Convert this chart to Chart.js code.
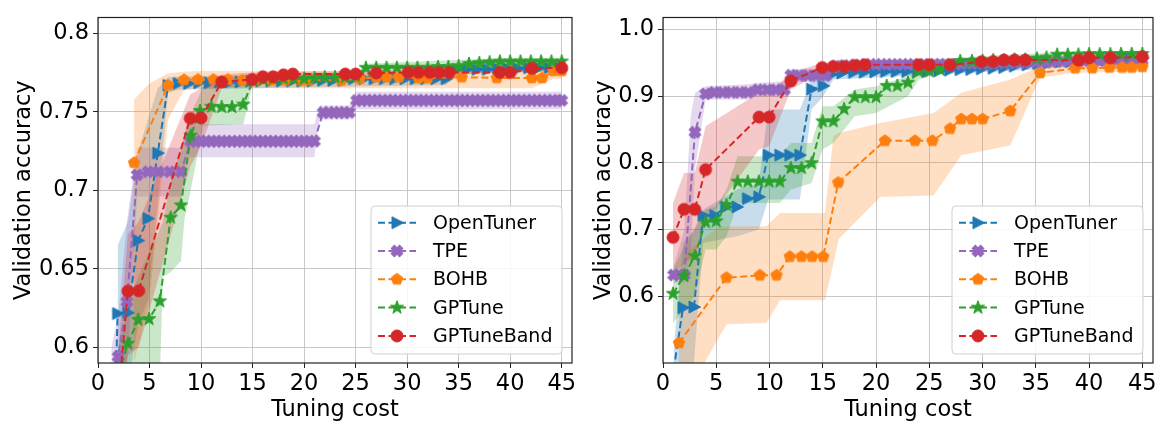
<!DOCTYPE html>
<html>
<head>
<meta charset="utf-8">
<script src="https://cdn.jsdelivr.net/npm/chart.js@4.4.1/dist/chart.umd.min.js"></script>
<style>
  body { margin: 0; background: #fff; }
  #wrap { position: relative; width: 1163px; height: 425px; }
  #wrap canvas { position: absolute; top: 0; }
</style>
</head>
<body>
<div id="wrap">
  <canvas id="left" width="580" height="425" style="left:0"></canvas>
  <canvas id="right" width="583" height="425" style="left:580px"></canvas>
</div>
<script>
// ---- ticks and names ----
var xTicks = [0, 5, 10, 15, 20, 25, 30, 35, 40, 45];
var xTickLabels = ["0", "5", "10", "15", "20", "25", "30", "35", "40", "45"];
var leftYTicks = [0.6, 0.65, 0.7, 0.75, 0.8];
var leftYTickLabels = ["0.6", "0.65", "0.7", "0.75", "0.8"];
var rightYTicks = [0.6, 0.7, 0.8, 0.9, 1.0];
var rightYTickLabels = ["0.6", "0.7", "0.8", "0.9", "1.0"];
var seriesNames = ["OpenTuner", "TPE", "BOHB", "GPTune", "GPTuneBand"];

// ---- left panel: mean curves ----
var L_otX = [1, 1.9, 2.9, 3.9, 4.85, 5.8, 6.8, 7.8, 8.8, 9.8, 10.8, 11.8, 12.8, 13.8, 14.8, 15.8, 16.8, 17.8, 18.8, 19.8, 20.8, 21.8, 22.8, 23.8, 24.8, 25.8, 26.8, 27.8, 28.8, 29.8, 30.8, 31.8, 32.8, 33.8, 34.8, 35.8, 36.8, 37.8, 38.8, 39.8, 40.8, 41.8, 42.8, 43.8, 44.8];
var L_otY = [0.40, 0.6215, 0.622, 0.668, 0.682, 0.7236, 0.7668, 0.768, 0.768, 0.7685, 0.7685, 0.769, 0.769, 0.769, 0.7695, 0.7695, 0.7695, 0.7695, 0.7695, 0.7695, 0.7695, 0.770, 0.770, 0.770, 0.771, 0.771, 0.771, 0.771, 0.771, 0.771, 0.771, 0.771, 0.771, 0.771, 0.777, 0.777, 0.777, 0.777, 0.7775, 0.7775, 0.7775, 0.778, 0.778, 0.778, 0.778];

var L_tpeX = [1, 1.95, 2.8, 3.8, 4.85, 5.85, 6.95, 8.05, 9, 9.5, 10, 10.5, 11, 11.5, 12, 12.5, 13, 13.5, 14, 14.5, 15, 15.5, 16, 16.5, 17, 17.5, 18, 18.5, 19, 19.5, 20, 20.5, 21, 21.85, 22.4, 22.9, 23.4, 23.9, 24.4, 25.1, 25.6, 26.1, 26.6, 27.1, 27.6, 28.1, 28.6, 29.1, 29.6, 30.1, 30.6, 31.1, 31.6, 32.1, 32.6, 33.1, 33.6, 34.1, 34.6, 35.1, 35.6, 36.1, 36.6, 37.1, 37.6, 38.1, 38.6, 39.1, 39.6, 40.1, 40.6, 41.1, 41.6, 42.1, 42.6, 43.1, 43.6, 44.1, 44.6, 45];
var L_tpeY = [0.45, 0.594, 0.629, 0.7098, 0.7118, 0.7118, 0.7118, 0.7118,
  0.7312, 0.7312, 0.7312, 0.7312, 0.7312, 0.7312, 0.7312, 0.7312, 0.7312, 0.7312, 0.7312, 0.7312, 0.7312, 0.7312, 0.7312, 0.7312, 0.7312, 0.7312, 0.7312, 0.7312, 0.7312, 0.7312, 0.7312, 0.7312, 0.7312,
  0.7495, 0.7495, 0.7495, 0.7495, 0.7495, 0.7495,
  0.7572, 0.7572, 0.7572, 0.7572, 0.7572, 0.7572, 0.7572, 0.7572, 0.7572, 0.7572, 0.7572, 0.7572, 0.7572, 0.7572, 0.7572, 0.7572, 0.7572, 0.7572, 0.7572, 0.7572, 0.7572, 0.7572, 0.7572, 0.7572, 0.7572, 0.7572, 0.7572, 0.7572, 0.7572, 0.7572, 0.7572, 0.7572, 0.7572, 0.7572, 0.7572, 0.7572, 0.7572, 0.7572, 0.7572, 0.7572, 0.7572];

var L_bohbX = [3.5, 6.8, 8.35, 9.7, 11.2, 12.6, 14, 15.4, 16.8, 18.2, 19.6, 20.4, 23.6, 25.4, 27, 28, 29.2, 31.1, 32, 35.3, 38.7, 42.1, 43.1, 44.2, 45];
var L_bohbY = [0.7175, 0.7668, 0.7703, 0.7705, 0.7705, 0.7705, 0.770, 0.770, 0.770, 0.770, 0.770, 0.770, 0.770, 0.771, 0.772, 0.772, 0.772, 0.7715, 0.7715, 0.772, 0.7715, 0.7715, 0.7715, 0.776, 0.776];

var L_gpX = [2, 2.9, 3.9, 4.95, 6, 7.05, 8.05, 9, 9.9, 11, 12, 13, 14.1, 15.05, 16, 17, 18, 19, 20, 21, 22, 23, 24, 25, 26, 27, 28, 29, 30, 31, 32, 33, 34, 35, 36, 37, 38, 39, 40, 41, 42, 43, 44, 45];
var L_gpY = [0.583, 0.6024, 0.6175, 0.618, 0.6293, 0.6826, 0.6904, 0.7348, 0.7505, 0.7532, 0.753, 0.753, 0.7546, 0.770, 0.7705, 0.771, 0.771, 0.771, 0.771, 0.7715, 0.772, 0.772, 0.772, 0.7725, 0.778, 0.778, 0.778, 0.778, 0.778, 0.778, 0.778, 0.7785, 0.7785, 0.779, 0.7805, 0.781, 0.7815, 0.782, 0.782, 0.782, 0.782, 0.782, 0.782, 0.782];

var L_gpbX = [2, 2.9, 3.95, 8.95, 10, 12, 14.95, 16, 17, 18, 18.9, 24, 25, 27, 30.1, 31.1, 32.2, 33.1, 34.1, 39, 40, 42.1, 45];
var L_gpbY = [0.57, 0.6358, 0.636, 0.7458, 0.746, 0.769, 0.7705, 0.7723, 0.7723, 0.7735, 0.774, 0.774, 0.774, 0.7746, 0.775, 0.775, 0.775, 0.775, 0.775, 0.775, 0.775, 0.7776, 0.778];

// ---- left panel: spread bands ----
var L_otBandX = [1.9, 2.9, 3.9, 4.85, 5.8, 6.8, 7.8, 15, 25, 33.8, 34.8, 45];
var L_otHi = [0.665, 0.68, 0.725, 0.745, 0.765, 0.772, 0.7725, 0.773, 0.7735, 0.774, 0.779, 0.780];
var L_otLo = [0.55, 0.575, 0.615, 0.63, 0.69, 0.762, 0.764, 0.765, 0.766, 0.767, 0.774, 0.776];

var L_tpeBandX = [1.3, 1.95, 2.8, 3.8, 8.05, 8.6, 21, 21.5, 24.4, 25, 45];
var L_tpeHi = [0.60, 0.62, 0.68, 0.727, 0.727, 0.742, 0.742, 0.754, 0.754, 0.7627, 0.7627];
var L_tpeLo = [0.57, 0.575, 0.585, 0.696, 0.696, 0.721, 0.721, 0.745, 0.745, 0.7515, 0.7515];

var L_bohbBandX = [3.5, 5, 6.8, 8.35, 10, 20, 30, 42.1, 44.2, 45];
var L_bohbHi = [0.758, 0.768, 0.7745, 0.7755, 0.776, 0.776, 0.776, 0.776, 0.779, 0.779];
var L_bohbLo = [0.59, 0.63, 0.745, 0.764, 0.765, 0.765, 0.765, 0.765, 0.771, 0.771];

var L_gpBandX = [2, 2.9, 3.9, 4.95, 6, 6.3, 7.05, 8.05, 8.4, 9, 10.2, 14.1, 15.05, 25, 26, 37, 45];
var L_gpHi = [0.60, 0.625, 0.645, 0.66, 0.675, 0.68, 0.705, 0.725, 0.735, 0.748, 0.766, 0.767, 0.7725, 0.7745, 0.7805, 0.7835, 0.7835];
var L_gpLo = [0.575, 0.585, 0.59, 0.59, 0.58, 0.645, 0.648, 0.655, 0.682, 0.70, 0.741, 0.742, 0.7685, 0.7705, 0.7755, 0.7785, 0.7805];

var L_gpbBandX = [2, 2.9, 3.95, 8.95, 10, 12, 14.95, 25, 45];
var L_gpbHi = [0.60, 0.672, 0.68, 0.761, 0.765, 0.7735, 0.775, 0.776, 0.780];
var L_gpbLo = [0.565, 0.595, 0.60, 0.715, 0.728, 0.765, 0.767, 0.772, 0.776];

// ---- right panel: mean curves ----
var R_otX = [1, 1.88, 2.91, 3.76, 4.86, 5.89, 6.95, 7.93, 9.0, 9.87, 10.97, 11.9, 12.85, 13.95, 15.04, 15.8, 16.8, 17.9, 18.9, 19.9, 20.9, 21.9, 22.9, 23.9, 24.8, 25.9, 26.9, 27.9, 28.9, 29.9, 31, 32, 33, 34.2, 35.2, 36.2, 37.3, 38.3, 39.3, 40.4, 41.5, 42.6, 43.8, 45];
var R_otY = [0.49, 0.583, 0.584, 0.7213, 0.7213, 0.734, 0.734, 0.7464, 0.749, 0.8116, 0.8116, 0.8116, 0.8116, 0.9107, 0.9155, 0.9325, 0.9348, 0.9358, 0.936, 0.9365, 0.937, 0.937, 0.937, 0.937, 0.937, 0.938, 0.939, 0.9397, 0.940, 0.941, 0.942, 0.943, 0.945, 0.947, 0.949, 0.950, 0.9517, 0.952, 0.953, 0.954, 0.955, 0.956, 0.956, 0.957];

var R_tpeX = [1, 1.5, 2, 3, 4, 4.8, 5.6, 6.4, 7.2, 8, 8.9, 9.8, 10.6, 11.4, 12, 12.8, 13.6, 14.4, 15.3, 16.2, 17, 18, 19, 20, 21, 22, 23, 24, 25, 26, 27, 28, 29, 30, 31, 32, 33, 34, 35, 36, 37, 38, 39, 40, 41, 42, 43, 44, 45];
var R_tpeY = [0.632, 0.632, 0.632, 0.846, 0.9035, 0.9058, 0.9058, 0.9058, 0.9058, 0.9058, 0.9097, 0.9097, 0.9097, 0.9097, 0.9315, 0.931, 0.931, 0.931, 0.931, 0.945, 0.946, 0.947, 0.948, 0.948, 0.948, 0.948, 0.948, 0.948, 0.948, 0.948, 0.948, 0.948, 0.949, 0.949, 0.949, 0.95, 0.95, 0.95, 0.951, 0.951, 0.952, 0.952, 0.952, 0.953, 0.953, 0.953, 0.954, 0.954, 0.954];

var R_bohbX = [1.5, 5.96, 9.09, 10.66, 11.9, 13, 14, 15.04, 16.45, 20.84, 23.66, 25.3, 26.95, 28, 29, 30, 32.6, 35.4, 38.7, 40.3, 41.9, 43.1, 44, 45];
var R_bohbY = [0.53, 0.628, 0.6315, 0.6315, 0.6594, 0.6594, 0.6594, 0.6594, 0.7706, 0.8333, 0.8333, 0.8333, 0.8513, 0.8658, 0.8658, 0.8658, 0.8778, 0.9348, 0.942, 0.942, 0.943, 0.943, 0.943, 0.944];

var R_gpX = [0.94, 1.97, 2.98, 4.0, 5.0, 5.96, 7.0, 7.96, 9, 9.96, 10.97, 12, 13, 13.95, 14.98, 16, 17, 18, 19, 20, 21, 22, 23, 24, 25, 26, 27.9, 29, 30, 31, 32, 33, 34, 35.1, 36, 37, 38, 39, 40, 41, 42, 43, 44, 45];
var R_gpY = [0.6039, 0.6304, 0.6604, 0.7112, 0.7126, 0.7368, 0.772, 0.772, 0.772, 0.772, 0.772, 0.7923, 0.7923, 0.7996, 0.8623, 0.8623, 0.8807, 0.8986, 0.8986, 0.8986, 0.9155, 0.9155, 0.9203, 0.9372, 0.9372, 0.940, 0.9527, 0.9527, 0.953, 0.954, 0.954, 0.955, 0.955, 0.9565, 0.958, 0.9623, 0.9623, 0.9625, 0.963, 0.963, 0.963, 0.9633, 0.9633, 0.9633];

var R_gpbX = [0.94, 1.97, 2.98, 4.0, 9.02, 9.96, 12, 14.94, 15.98, 17, 18, 18.96, 24, 25, 26.95, 29.9, 31, 32, 33, 34, 39, 40, 42, 45];
var R_gpbY = [0.6884, 0.7304, 0.7304, 0.7899, 0.8687, 0.8687, 0.9228, 0.943, 0.9445, 0.9445, 0.946, 0.947, 0.947, 0.947, 0.947, 0.9517, 0.952, 0.9542, 0.9542, 0.9542, 0.954, 0.9575, 0.9575, 0.959];

// ---- right panel: spread bands ----
var R_otBandX = [1, 1.88, 2.91, 3.76, 6.95, 9.0, 9.87, 12.85, 13.95, 15.04, 16, 25, 35, 45];
var R_otHi = [0.52, 0.68, 0.70, 0.73, 0.76, 0.77, 0.88, 0.88, 0.925, 0.93, 0.94, 0.942, 0.952, 0.962];
var R_otLo = [0.45, 0.49, 0.50, 0.68, 0.69, 0.70, 0.745, 0.745, 0.88, 0.90, 0.925, 0.932, 0.94, 0.952];

var R_tpeBandX = [1, 2, 2.6, 3, 4, 8, 8.9, 11.4, 11.9, 15.3, 16.2, 45];
var R_tpeHi = [0.645, 0.70, 0.87, 0.905, 0.915, 0.918, 0.92, 0.922, 0.94, 0.942, 0.953, 0.962];
var R_tpeLo = [0.62, 0.62, 0.66, 0.79, 0.895, 0.895, 0.90, 0.90, 0.922, 0.92, 0.938, 0.946];

var R_bohbBandX = [1.5, 2.5, 5.3, 6, 9.7, 11, 15.2, 16, 16.5, 20.4, 25.4, 28, 32.6, 35.4, 38.7, 45];
var R_bohbHi = [0.64, 0.67, 0.705, 0.705, 0.705, 0.725, 0.725, 0.84, 0.845, 0.86, 0.875, 0.905, 0.925, 0.945, 0.948, 0.952];
var R_bohbLo = [0.42, 0.46, 0.54, 0.558, 0.56, 0.594, 0.594, 0.65, 0.686, 0.749, 0.751, 0.8116, 0.826, 0.9275, 0.935, 0.937];

var R_gpBandX = [0.94, 1.97, 2.98, 4, 5, 5.96, 7, 10.97, 12, 13.95, 14.98, 16, 18, 20, 23, 24, 25, 27.9, 37, 45];
var R_gpHi = [0.64, 0.675, 0.70, 0.73, 0.735, 0.76, 0.81, 0.81, 0.83, 0.83, 0.885, 0.885, 0.91, 0.915, 0.93, 0.945, 0.947, 0.958, 0.966, 0.968];
var R_gpLo = [0.56, 0.58, 0.60, 0.67, 0.67, 0.69, 0.74, 0.74, 0.76, 0.77, 0.82, 0.83, 0.87, 0.875, 0.90, 0.925, 0.93, 0.947, 0.957, 0.958];

var R_gpbBandX = [0.94, 1.97, 2.98, 4.0, 9.02, 9.96, 12, 14.94, 45];
var R_gpbHi = [0.74, 0.785, 0.785, 0.855, 0.905, 0.905, 0.935, 0.95, 0.965];
var R_gpbLo = [0.63, 0.65, 0.66, 0.71, 0.82, 0.825, 0.91, 0.935, 0.953];

// ---- styles ----
var colors = ["#1f77b4", "#9467bd", "#ff7f0e", "#2ca02c", "#d62728"];
var bandColors = ["rgba(31,119,180,0.25)", "rgba(148,103,189,0.25)", "rgba(255,127,14,0.25)", "rgba(44,160,44,0.25)", "rgba(214,39,40,0.25)"];
var markerKinds = ["tri", "x", "pent", "star", "circle"];
var FONT = "DejaVu Sans";

Chart.defaults.font.family = FONT;

function markerCanvas(kind, color) {
  var c = document.createElement("canvas");
  c.width = 18; c.height = 18;
  var g = c.getContext("2d");
  g.translate(9, 9);
  g.fillStyle = color; g.strokeStyle = color; g.lineWidth = 1;
  g.beginPath();
  if (kind === "tri") {
    g.moveTo(6.5, 0); g.lineTo(-5, 6); g.lineTo(-5, -6);
  } else if (kind === "x") {
    var a = 6, b = 2.3;
    g.rotate(Math.PI / 4);
    var p = [[-b, a], [b, a], [b, b], [a, b], [a, -b], [b, -b], [b, -a], [-b, -a], [-b, -b], [-a, -b], [-a, b], [-b, b]];
    g.moveTo(p[0][0], p[0][1]);
    for (var i = 1; i < p.length; i++) g.lineTo(p[i][0], p[i][1]);
  } else if (kind === "pent") {
    for (var k = 0; k < 5; k++) {
      var an = -Math.PI / 2 + k * 2 * Math.PI / 5;
      g.lineTo(6 * Math.cos(an), 6 * Math.sin(an));
    }
  } else if (kind === "star") {
    for (var k = 0; k < 10; k++) {
      var an = -Math.PI / 2 + k * Math.PI / 5;
      var r = k % 2 === 0 ? 7 : 2.8;
      g.lineTo(r * Math.cos(an), r * Math.sin(an));
    }
  } else {
    g.arc(0, 0, 6, 0, Math.PI * 2);
  }
  g.closePath(); g.fill(); g.stroke();
  return c;
}
var markers = markerKinds.map(function (k, i) { return markerCanvas(k, colors[i]); });

function pts(xs, ys) {
  return xs.map(function (x, k) { return { x: x, y: ys[k] }; });
}

// spines on all four sides
var framePlugin = {
  id: "frame",
  afterDatasetsDraw: function (chart) {
    var a = chart.chartArea, g = chart.ctx;
    g.save();
    g.strokeStyle = "#222"; g.lineWidth = 1.2;
    g.strokeRect(a.left, a.top, a.right - a.left, a.bottom - a.top);
    g.restore();
  }
};

// matplotlib-like legend, lower right
var legendPlugin = {
  id: "mlegend",
  afterDraw: function (chart) {
    var a = chart.chartArea, g = chart.ctx;
    var w = 191, h = 148;
    var x0 = a.right - 10 - w, y0 = a.bottom - 9 - h;
    g.save();
    g.beginPath();
    g.roundRect(x0, y0, w, h, 4);
    g.fillStyle = "rgba(255,255,255,0.85)";
    g.fill();
    g.strokeStyle = "#d0d0d0"; g.lineWidth = 1;
    g.stroke();
    seriesNames.forEach(function (name, i) {
      var cy = y0 + 16.7 + i * 28.3;
      g.beginPath();
      g.setLineDash([7, 3.5]);
      g.strokeStyle = colors[i]; g.lineWidth = 2;
      g.moveTo(x0 + 7, cy); g.lineTo(x0 + 45, cy);
      g.stroke();
      g.setLineDash([]);
      g.drawImage(markers[i], x0 + 26 - 9, cy - 9);
      g.fillStyle = "#000";
      g.font = "19px '" + FONT + "'";
      g.textBaseline = "middle";
      g.fillText(name, x0 + 62, cy + 1);
    });
    g.restore();
  }
};

function makeChart(id, lines, bands, yMin, yMax, yTicks, yLabels, yWidth, padRight) {
  var datasets = [];
  lines.forEach(function (ln, i) {
    datasets.push({
      label: seriesNames[i],
      data: pts(ln[0], ln[1]),
      borderColor: colors[i],
      backgroundColor: colors[i],
      borderWidth: 2,
      borderDash: [7, 3.5],
      pointStyle: markers[i],
      pointRadius: 6,
      pointHoverRadius: 6,
      fill: false,
      tension: 0,
      clip: 0,
      order: 4 - i
    });
  });
  bands.forEach(function (b, i) {
    datasets.push({
      label: seriesNames[i] + " hi",
      data: pts(b[0], b[2]),
      borderWidth: 0,
      pointRadius: 0,
      fill: false,
      tension: 0,
      clip: 0,
      order: 20 + (4 - i)
    });
    datasets.push({
      label: seriesNames[i] + " lo",
      data: pts(b[0], b[1]),
      borderWidth: 0,
      pointRadius: 0,
      backgroundColor: bandColors[i],
      fill: "-1",
      tension: 0,
      clip: 0,
      order: 20 + (4 - i)
    });
  });

  return new Chart(document.getElementById(id), {
    type: "line",
    data: { datasets: datasets },
    options: {
      responsive: false,
      animation: false,
      layout: { padding: { left: 0, top: 4, right: padRight, bottom: 0 } },
      plugins: { legend: { display: false }, tooltip: { enabled: false } },
      scales: {
        x: {
          type: "linear", min: 0, max: 46,
          afterBuildTicks: function (s) { s.ticks = xTicks.map(function (v) { return { value: v }; }); },
          afterFit: function (s) { s.height = 62; },
          ticks: {
            callback: function (v) { return xTickLabels[xTicks.indexOf(v)]; },
            font: { size: 22.5 }, color: "#000", padding: 3, maxRotation: 0, autoSkip: false
          },
          grid: { color: "#c8c8c8", lineWidth: 1, tickLength: 5, tickColor: "#222" },
          border: { display: false },
          title: { display: true, text: "Tuning cost", font: { size: 22.5 }, color: "#000", padding: { top: 0, bottom: 1.5 } }
        },
        y: {
          type: "linear", min: yMin, max: yMax,
          afterBuildTicks: function (s) { s.ticks = yTicks.map(function (v) { return { value: v }; }); },
          afterFit: function (s) { s.width = yWidth; },
          ticks: {
            callback: function (v) { return yLabels[yTicks.indexOf(v)]; },
            font: { size: 22.5 }, color: "#000", padding: 4
          },
          grid: { color: "#c8c8c8", lineWidth: 1, tickLength: 5, tickColor: "#222" },
          border: { display: false },
          title: { display: true, text: "Validation accuracy", font: { size: 22.5 }, color: "#000", padding: { top: 10.5, bottom: 0 } }
        }
      }
    },
    plugins: [framePlugin, legendPlugin]
  });
}

makeChart("left",
  [[L_otX, L_otY], [L_tpeX, L_tpeY], [L_bohbX, L_bohbY], [L_gpX, L_gpY], [L_gpbX, L_gpbY]],
  [[L_otBandX, L_otLo, L_otHi], [L_tpeBandX, L_tpeLo, L_tpeHi], [L_bohbBandX, L_bohbLo, L_bohbHi], [L_gpBandX, L_gpLo, L_gpHi], [L_gpbBandX, L_gpbLo, L_gpbHi]],
  0.59, 0.81, leftYTicks, leftYTickLabels, 98, 7);

makeChart("right",
  [[R_otX, R_otY], [R_tpeX, R_tpeY], [R_bohbX, R_bohbY], [R_gpX, R_gpY], [R_gpbX, R_gpbY]],
  [[R_otBandX, R_otLo, R_otHi], [R_tpeBandX, R_tpeLo, R_tpeHi], [R_bohbBandX, R_bohbLo, R_bohbHi], [R_gpBandX, R_gpLo, R_gpHi], [R_gpbBandX, R_gpbLo, R_gpbHi]],
  0.5, 1.018, rightYTicks, rightYTickLabels, 83, 10);
</script>
</body>
</html>
